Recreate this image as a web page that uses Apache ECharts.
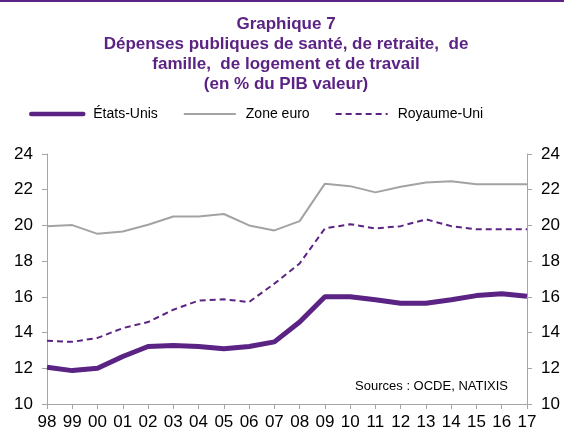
<!DOCTYPE html>
<html>
<head>
<meta charset="utf-8">
<script src="https://cdn.jsdelivr.net/npm/echarts@6/dist/echarts.min.js"></script>
<style>
  html, body { margin: 0; padding: 0; background: #fff; }
  #main { width: 564px; height: 430px; }
</style>
</head>
<body>
<div id="main"></div>
<script>
// années (axe x)
var years = ['98', '99', '00', '01', '02', '03', '04', '05', '06', '07',
  '08', '09', '10', '11', '12', '13', '14', '15', '16', '17']
// séries, en % du PIB
var etatsUnis = [12.06, 11.87, 12.0, 12.66, 13.22, 13.28, 13.22, 13.09, 13.22, 13.48,
  14.59, 16.01, 16.01, 15.84, 15.64, 15.64, 15.84, 16.07, 16.18, 16.03]
var zoneEuro = [19.96, 20.02, 19.53, 19.66, 20.04, 20.5, 20.5, 20.64, 20.0, 19.72,
  20.24, 22.34, 22.2, 21.85, 22.17, 22.4, 22.47, 22.3, 22.3, 22.3]
var royaumeUni = [13.54, 13.48, 13.7, 14.25, 14.59, 15.28, 15.79, 15.86, 15.71, 16.74,
  17.87, 19.83, 20.07, 19.83, 19.96, 20.34, 19.96, 19.78, 19.78, 19.78]

var violet = '#5b2383'
var gris = '#a3a3a3'
var axe = '#a6a6a6'
var font = 'Liberation Sans, Arial, sans-serif'

var myChart = echarts.init(document.getElementById('main'))

function yAxisCfg (pos) {
  return {
    type: 'value',
    position: pos,
    min: 10,
    max: 24,
    interval: 2,
    splitLine: { show: false },
    axisLine: { show: true, lineStyle: { color: axe, width: 1 } },
    axisTick: { show: true, length: 5, lineStyle: { color: axe } },
    axisLabel: { color: '#000', fontSize: 17, fontFamily: font, margin: 14 }
  }
}

myChart.setOption({
  animation: false,
  title: {
    text: 'Graphique 7\nDépenses publiques de santé, de retraite,  de\nfamille,  de logement et de travail\n(en % du PIB valeur)',
    left: 281,
    textAlign: 'center',
    top: 9,
    textStyle: {
      color: violet,
      fontSize: 17,
      fontWeight: 'bold',
      fontFamily: font,
      lineHeight: 20
    }
  },
  legend: {
    left: 24,
    top: 102,
    itemWidth: 52,
    itemHeight: 10,
    itemGap: 25,
    itemStyle: { opacity: 0 },
    textStyle: { color: '#000', fontSize: 14, fontFamily: font, padding: [0, 0, 0, 5] },
    data: [
      { name: 'États-Unis', lineStyle: { width: 4.5, cap: 'round' } },
      'Zone euro',
      'Royaume-Uni'
    ]
  },
  graphic: [
    { type: 'rect', shape: { x: 0, y: 0, width: 564, height: 2 }, style: { fill: violet } },
    {
      type: 'text',
      right: 56,
      top: 380,
      style: { text: 'Sources : OCDE, NATIXIS', fill: '#000', fontSize: 13, fontFamily: font }
    }
  ],
  grid: {
    left: 47,
    right: 37,
    top: 154,
    bottom: 26,
    outerBoundsMode: 'none'
  },
  xAxis: {
    type: 'category',
    boundaryGap: false,
    data: years,
    axisLine: { lineStyle: { color: axe, width: 1 } },
    axisTick: { show: true, length: 5, lineStyle: { color: axe } },
    axisLabel: { color: '#000', fontSize: 17, fontFamily: font, margin: 10, interval: 0 }
  },
  yAxis: [yAxisCfg('left'), yAxisCfg('right')],
  series: [
    {
      name: 'États-Unis',
      type: 'line',
      data: etatsUnis,
      symbol: 'none',
      lineStyle: { color: violet, width: 5 },
      itemStyle: { color: violet },
      z: 3
    },
    {
      name: 'Zone euro',
      type: 'line',
      data: zoneEuro,
      symbol: 'none',
      lineStyle: { color: gris, width: 2 },
      itemStyle: { color: gris }
    },
    {
      name: 'Royaume-Uni',
      type: 'line',
      data: royaumeUni,
      symbol: 'none',
      lineStyle: { color: violet, width: 2, type: [6, 4] },
      itemStyle: { color: violet }
    }
  ]
})
</script>
</body>
</html>
